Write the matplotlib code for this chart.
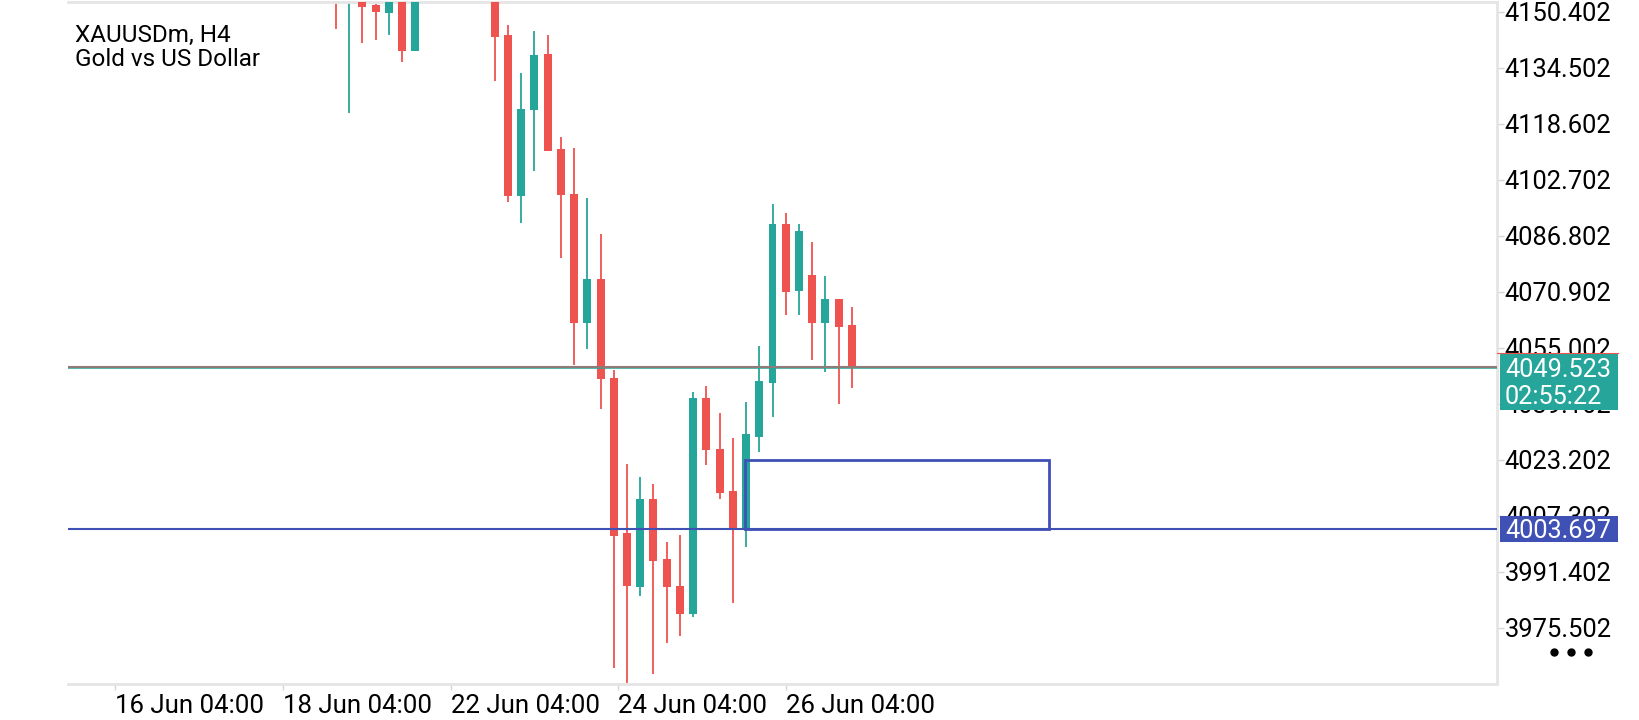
import numpy as np
import matplotlib
matplotlib.use("Agg")
import matplotlib.pyplot as plt
from matplotlib import transforms
from matplotlib.patches import Rectangle
from matplotlib.lines import Line2D

plt.rcParams["font.family"] = ["Roboto", "DejaVu Sans"]

SYMBOL = "XAUUSDm, H4"
DESCRIPTION = "Gold vs US Dollar"

nan = np.nan
# H4 candles, left to right (first one = first candle visible on screen).
# nan = candle that sits completely above the visible price range
opens = [4158.0, 4153.8, 4155.0, 4152.4, 4150.2, 4155.0, 4139.4,
         nan, nan, nan, nan, nan,
         4157.0, 4143.9, 4098.2, 4122.6, 4138.5, 4111.5, 4098.7, 4062.2,
         4074.6, 4046.6, 4002.6, 3987.2, 4012.1, 3995.1, 3987.4, 3979.5,
         4040.9, 4026.3, 4014.5, 4004.0, 4029.8, 4045.2, 4090.2, 4071.3,
         4075.7, 4062.2, 4068.9, 4061.5]
highs = [4160.0, 4161.0, 4157.0, 4152.7, 4156.0, 4157.0, 4158.0,
         nan, nan, nan, nan, nan,
         4159.0, 4146.7, 4133.2, 4145.0, 4144.0, 4114.9, 4111.8, 4097.5,
         4087.4, 4048.8, 4022.1, 4018.5, 4016.4, 4000.0, 4001.9, 4042.6,
         4044.2, 4036.6, 4029.4, 4039.8, 4055.6, 4095.9, 4093.2, 4090.2,
         4085.1, 4075.4, 4068.9, 4066.6]
lows = [4145.6, 4121.7, 4141.7, 4142.5, 4144.0, 4136.3, 4139.4,
        nan, nan, nan, nan, nan,
        4130.8, 4096.5, 4090.6, 4105.3, 4110.9, 4080.6, 4050.2, 4054.8,
        4037.6, 3964.1, 3960.0, 3984.6, 3962.4, 3971.3, 3973.3, 3978.7,
        4021.8, 4012.1, 3982.7, 3998.6, 4025.6, 4035.5, 4064.5, 4064.4,
        4051.6, 4048.3, 4039.1, 4043.7]
closes = [4153.6, 4158.0, 4151.9, 4150.5, 4154.0, 4139.4, 4156.0,
          nan, nan, nan, nan, nan,
          4143.4, 4098.2, 4122.9, 4138.2, 4110.9, 4098.4, 4062.2, 4074.6,
          4046.1, 4001.7, 3987.4, 4012.1, 3994.6, 3987.2, 3979.5, 4040.9,
          4026.0, 4013.9, 4004.0, 4030.6, 4045.6, 4090.2, 4071.0, 4088.2,
          4062.2, 4068.9, 4061.1, 4049.5]

# time axis labels (position in candle units)
time_ticks = [-16.70, -4.01, 8.67, 21.35, 34.04]
time_labels = ["16 Jun 04:00", "18 Jun 04:00", "22 Jun 04:00",
               "24 Jun 04:00", "26 Jun 04:00"]

price_ticks = [4150.402, 4134.502, 4118.602, 4102.702, 4086.802, 4070.902,
               4055.002, 4039.102, 4023.202, 4007.302, 3991.402, 3975.502]

bid_price = 4049.523
bar_timer = "02:55:22"
level_price = 4003.697
# drawn rectangle: from candle 30.9 to 53.9, price 4003.7 .. 4023.2
zone_start, zone_end = 30.9, 53.9
zone_low, zone_high = 4003.7, 4023.2

UP = "#26a69a"
DOWN = "#ef5350"
BLUE = "#3f51b5"
GRID = "#e5e5e5"

o = np.array(opens)
h = np.array(highs)
l = np.array(lows)
c = np.array(closes)
x = np.arange(len(o))
ok = ~np.isnan(o)
colors = np.where(c >= o, UP, DOWN)

fig = plt.figure(figsize=(16.4, 7.2), dpi=100)
W, H = 1640, 720
ax = fig.add_axes([68.3 / W, 1 - 684 / H, (1497 - 68.3) / W, (684 - 2) / H])

ax.vlines(x[ok], l[ok], h[ok], colors=colors[ok], lw=1.3, zorder=2)
ax.bar(x[ok], np.abs(c - o)[ok], bottom=np.minimum(o, c)[ok], width=0.6,
       color=colors[ok], zorder=3)

ax.set_xlim(-20.23, 87.76)
ax.set_ylim(3959.6, 4153.24)

# price lines (grey bid line with the teal one just under it)
below = transforms.offset_copy(ax.get_yaxis_transform(), fig=fig, y=-0.7, units="points")
ax.plot([0, 1], [bid_price, bid_price], color=UP, lw=1.1, transform=below, zorder=4)
ax.axhline(bid_price, color="#8f7b77", lw=1.5, zorder=4)
ax.axhline(level_price, color=BLUE, lw=1.5, zorder=4)

ax.add_patch(Rectangle((zone_start, zone_low), zone_end - zone_start, zone_high - zone_low,
                       fill=False, edgecolor=BLUE, lw=2.0, zorder=5))

# axes frame
for side in ["top", "bottom", "right"]:
    ax.spines[side].set_color(GRID)
    ax.spines[side].set_linewidth(2.0)
ax.spines["left"].set_visible(False)

ax.yaxis.tick_right()
ax.set_yticks(price_ticks, [f"{v:.3f}" for v in price_ticks])
ax.tick_params(axis="y", length=5, width=1, color="#d6d6d6", pad=0.5,
               labelsize=18.4, labelcolor="black")
ax.set_xticks(time_ticks, time_labels, ha="left")
ax.tick_params(axis="x", length=4, width=1, color="#d6d6d6", pad=3.4,
               labelsize=18.6, labelcolor="black")

# price labels on the scale
px_per_unit = (684 - 2) / (4153.24 - 3959.6)
yax = ax.get_yaxis_transform()
box_x = 1.0 + 3 / (1497 - 68.3)
box_w = 118 / (1497 - 68.3)
text_x = 1.0 + 8 / (1497 - 68.3)

ax.add_patch(Rectangle((box_x, bid_price - 42.7 / px_per_unit), box_w, 57 / px_per_unit,
                       transform=yax, facecolor=UP, edgecolor="none", clip_on=False, zorder=6))
ax.plot([1.0, box_x + box_w], [bid_price + 14.3 / px_per_unit] * 2, color=DOWN, lw=0.8,
        transform=yax, clip_on=False, zorder=7)
ax.text(text_x, bid_price, f"{bid_price:.3f}", transform=yax, color="white",
        fontsize=18.2, va="center_baseline", ha="left", zorder=8, clip_on=False)
ax.annotate(bar_timer, xy=(text_x, bid_price), xycoords=yax, xytext=(0, -19.9),
            textcoords="offset points", color="white", fontsize=18.2,
            va="center_baseline", ha="left", zorder=8, annotation_clip=False)

ax.add_patch(Rectangle((box_x, level_price - 13 / px_per_unit), box_w, 25.2 / px_per_unit,
                       transform=yax, facecolor=BLUE, edgecolor="none", clip_on=False, zorder=6))
ax.text(text_x, level_price, f"{level_price:.3f}", transform=yax, color="white",
        fontsize=18.2, va="center_baseline", ha="left", zorder=8, clip_on=False)

# header
fig.text(75 / W, 1 - 41.7 / H, SYMBOL, fontsize=17.5, va="baseline")
fig.text(75 / W, 1 - 65.7 / H, DESCRIPTION, fontsize=17.5, va="baseline")

# menu dots
fig.add_artist(Line2D([1554.3 / W, 1571.5 / W, 1588.0 / W], [1 - 651.7 / H] * 3,
                      ls="none", marker="o", ms=5, color="black", transform=fig.transFigure))

fig.savefig("out.png", dpi=100, facecolor="white")
